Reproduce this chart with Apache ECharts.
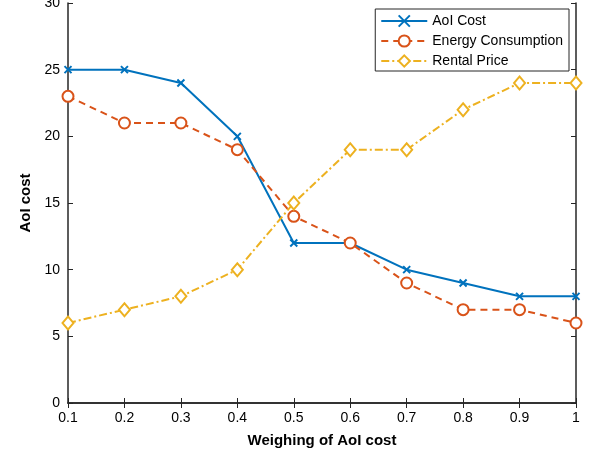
<!DOCTYPE html>
<html><head><meta charset="utf-8">
<script src="https://cdn.jsdelivr.net/npm/echarts@6/dist/echarts.min.js"></script>
<style>html,body{margin:0;padding:0;background:#fff}#c{width:590px;height:459px}</style>
</head><body><div id="c"></div>
<script>
const categories = ['0.1','0.2','0.3','0.4','0.5','0.6','0.7','0.8','0.9','1'];
const aoiCost = [25,25,24,20,12,12,10,9,8,8];
const energyConsumption = [23,21,21,19,14,12,9,7,7,6];
const rentalPrice = [6,7,8,10,15,19,19,22,24,24];
const yTicks = [0,5,10,15,20,25,30];

const font = 'Liberation Sans, Arial, sans-serif';
const chart = echarts.init(document.getElementById('c'), null, {renderer:'canvas'});
const axisLine = {show:true, lineStyle:{color:'#262626', width:1.5}};
chart.setOption({
  animation:false,
  backgroundColor:'#fff',
  textStyle:{fontFamily:font},
  grid:{left:68, right:14, top:3, bottom:56, containLabel:false, outerBoundsMode:'none'},
  legend:{
    orient:'vertical', right:21, top:9,
    backgroundColor:'#fff', borderColor:'#262626', borderWidth:1,
    padding:[5,6,3,5], itemGap:6, itemWidth:46, itemHeight:14,
    textStyle:{fontFamily:font, fontSize:14, color:'#000'},
    data:['AoI Cost','Energy Consumption','Rental Price']
  },
  xAxis:[{
    type:'category', data:categories, boundaryGap:false,
    name:'Weighing of AoI cost', nameLocation:'middle', nameGap:30,
    nameTextStyle:{fontFamily:font, fontSize:15, fontWeight:'bold', color:'#000'},
    axisLine:axisLine, axisTick:{inside:true, length:5, lineStyle:{color:'#262626'}},
    axisLabel:{fontFamily:font, fontSize:14, color:'#000', margin:8}, splitLine:{show:false}
  },{
    type:'category', data:categories, boundaryGap:false, position:'top',
    axisLine:axisLine, axisTick:{inside:true, length:5, lineStyle:{color:'#262626'}},
    axisLabel:{show:false}, splitLine:{show:false}
  }],
  yAxis:[{
    type:'value', min:0, max:30, interval:5,
    name:'AoI cost', nameLocation:'middle', nameGap:33,
    nameTextStyle:{fontFamily:font, fontSize:15, fontWeight:'bold', color:'#000'},
    axisLine:axisLine, axisTick:{show:true, inside:true, length:5, lineStyle:{color:'#262626'}},
    axisLabel:{fontFamily:font, fontSize:14, color:'#000', margin:8}, splitLine:{show:false}
  },{
    type:'value', min:0, max:30, interval:5, position:'right',
    axisLine:axisLine, axisTick:{show:true, inside:true, length:5, lineStyle:{color:'#262626'}},
    axisLabel:{show:false}, splitLine:{show:false}
  }],
  series:[{
    name:'AoI Cost', type:'line', data:aoiCost,
    symbol:'path://M0,0L10,10M10,0L0,10', symbolSize:7,
    itemStyle:{color:'#0072BD', borderColor:'#0072BD', borderWidth:2},
    lineStyle:{color:'#0072BD', width:2}
  },{
    name:'Energy Consumption', type:'line', data:energyConsumption,
    symbol:'emptyCircle', symbolSize:11,
    itemStyle:{color:'#D95319', borderColor:'#D95319', borderWidth:2},
    lineStyle:{color:'#D95319', width:2, type:[7,5]}
  },{
    name:'Rental Price', type:'line', data:rentalPrice,
    symbol:'emptyDiamond', symbolSize:[11,13],
    itemStyle:{color:'#EDB120', borderColor:'#EDB120', borderWidth:2},
    lineStyle:{color:'#EDB120', width:2, type:[8,3,2,3]}
  }]
});
</script></body></html>
